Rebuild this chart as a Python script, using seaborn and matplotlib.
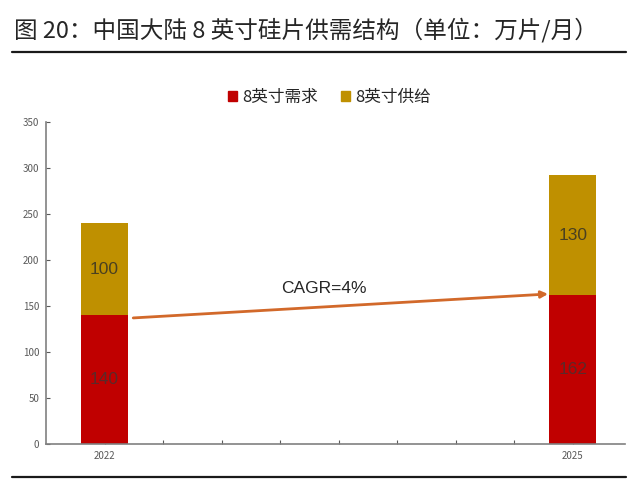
import pandas as pd
import matplotlib.pyplot as plt
import seaborn as sns
from matplotlib.patches import Patch

# data
years = ["2022", "2025"]
positions = [0, 8]          # 2022 and 2025 sit 8 slots apart on the axis
demand = [140, 162]
supply = [100, 130]
cagr_text = "CAGR=4%"
title = "图 20：中国大陆 8 英寸硅片供需结构（单位：万片/月）"

red = "#C00000"
gold = "#BF9000"
arrow_col = "#D2692A"

sns.set_style("white")
plt.rcParams["font.family"] = ["Noto Sans CJK SC", "DejaVu Sans"]

df = pd.DataFrame({"year": years, "pos": positions, "demand": demand, "supply": supply})
df["total"] = df["demand"] + df["supply"]

fig = plt.figure(figsize=(6.4, 4.8), dpi=100)
ax = fig.add_axes([0.072, 0.075, 0.905, 0.671])

# stacked bars: draw the totals in gold, then demand in red over them
sns.barplot(data=df, x="pos", y="total", native_scale=True, width=0.1,
            color=gold, saturation=1, linewidth=0, ax=ax)
sns.barplot(data=df, x="pos", y="demand", native_scale=True, width=0.1,
            color=red, saturation=1, linewidth=0, ax=ax)

for _, r in df.iterrows():
    ax.text(r["pos"], r["demand"] / 2, f"{r['demand']}", ha="center", va="center",
            fontsize=12.5, color="#5a2a2a", family=["Liberation Sans", "DejaVu Sans"])
    ax.text(r["pos"], r["demand"] + r["supply"] / 2, f"{r['supply']}", ha="center",
            va="center", fontsize=12.5, color="#4a4020",
            family=["Liberation Sans", "DejaVu Sans"])

# growth arrow from 2022 demand to 2025 demand
ax.annotate("", xy=(7.58, 163), xytext=(0.49, 137),
            arrowprops=dict(arrowstyle="-|>", color=arrow_col, lw=2,
                            mutation_scale=10, shrinkA=0, shrinkB=0))
ax.text(3.75, 169, cagr_text, ha="center", va="center", fontsize=12.5,
        color="#262626", family=["Liberation Sans", "DejaVu Sans"])

ax.set_xlim(-1, 8.9)
ax.set_ylim(0, 350)
ax.set_yticks(range(0, 351, 50))
ax.set_xticks(positions)
ax.set_xticklabels(years)
ax.set_xticks(range(1, 8), minor=True)
ax.set_xlabel("")
ax.set_ylabel("")
ax.tick_params(axis="both", which="both", direction="in", length=3, width=0.8,
               color="#595959", labelsize=7, labelcolor="#595959", pad=5)
ax.tick_params(axis="both", which="both", bottom=True, left=True)
for s in ["top", "right"]:
    ax.spines[s].set_visible(False)
for s in ["left", "bottom"]:
    ax.spines[s].set_color("#808080")
    ax.spines[s].set_linewidth(1.2)

handles = [Patch(color=red, label="8英寸需求"), Patch(color=gold, label="8英寸供给")]
fig.legend(handles=handles, loc="center", bbox_to_anchor=(0.515, 0.797), ncol=2,
           frameon=False, fontsize=12, handlelength=0.55, handleheight=0.55,
           handletextpad=0.3, columnspacing=1.4, labelcolor="#262626")

fig.text(0.022, 0.937, title, fontsize=17, color="#262626", va="center", ha="left")
fig.add_artist(plt.Line2D([0.019, 0.978], [0.892, 0.892], color="#1a1a1a", lw=1.6))
fig.add_artist(plt.Line2D([0.019, 0.978], [0.006, 0.006], color="#1a1a1a", lw=1.6))

fig.savefig("out.png", dpi=100)
